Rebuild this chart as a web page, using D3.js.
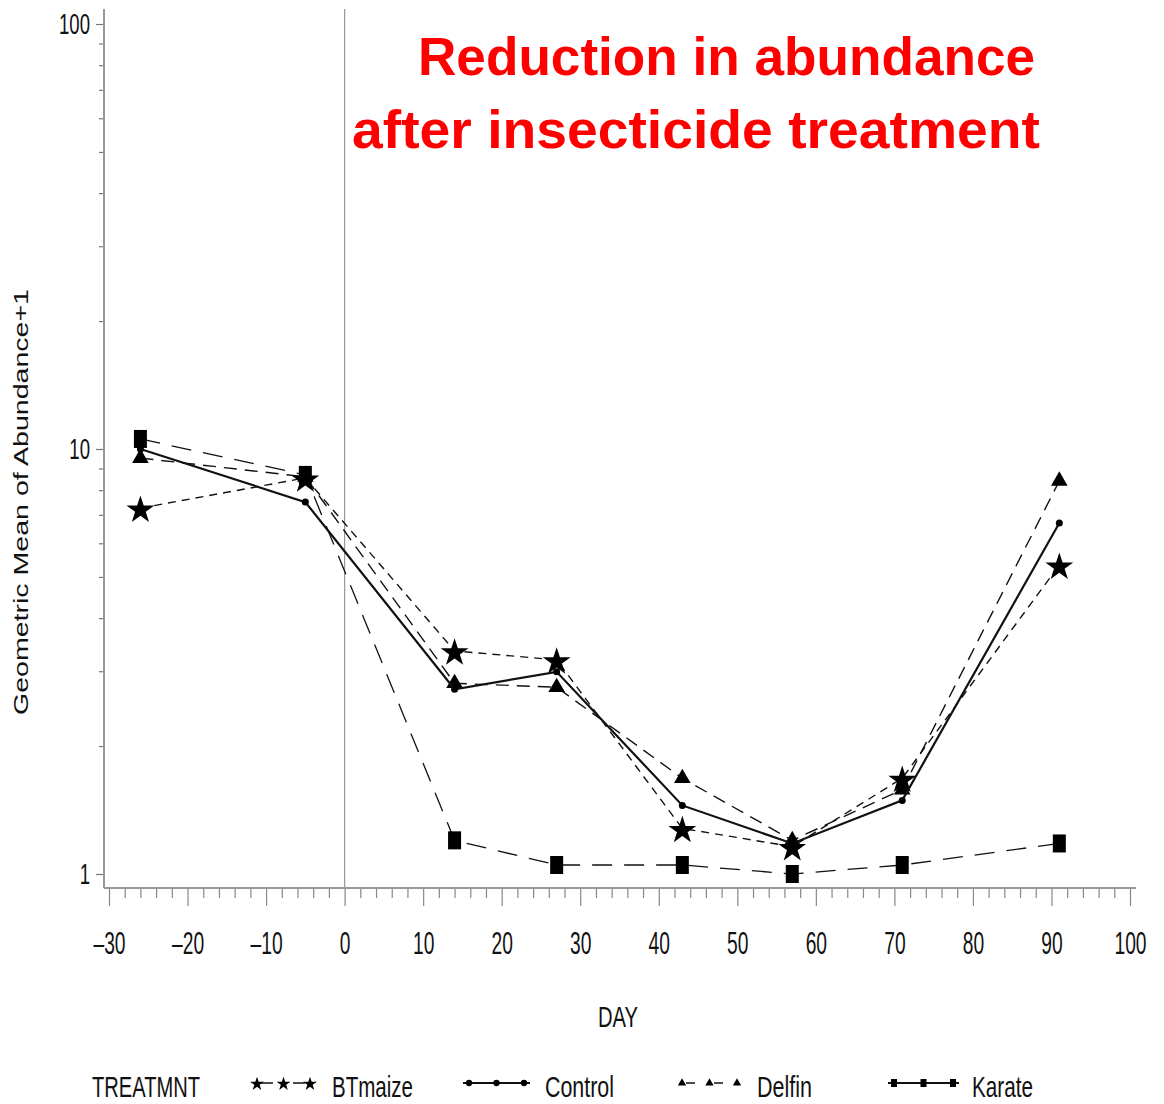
<!DOCTYPE html>
<html>
<head>
<meta charset="utf-8">
<script src="https://cdn.jsdelivr.net/npm/d3@7"></script>
<style>
  body { margin: 0; background: #fff; }
  svg text { font-family: "Liberation Sans", Arial, sans-serif; }
</style>
</head>
<body>
<div id="chart"></div>
<script>
// sampling days
let days = [-26, -5, 14, 27, 43, 57, 71, 91];

// geometric mean of abundance + 1
let btmaize = [7.26, 8.55, 3.35, 3.19, 1.28, 1.16, 1.68, 5.33];
let control = [10.0, 7.5, 2.72, 2.99, 1.45, 1.18, 1.49, 6.70];
let delfin  = [9.52, 8.6, 2.81, 2.75, 1.68, 1.20, 1.58, 8.41];
let karate  = [10.56, 8.69, 1.20, 1.05, 1.05, 1.0, 1.05, 1.18];

let treatments = ["BTmaize", "Control", "Delfin", "Karate"];
let xTicks = [-30, -20, -10, 0, 10, 20, 30, 40, 50, 60, 70, 80, 90, 100];
let yTicks = [1, 10, 100];

let width = 1164;
let height = 1104;
let squeeze = 0.62; // condensed look of the tick labels

let svg = d3.select("#chart")
    .append("svg")
    .attr("width", width)
    .attr("height", height);

let x = d3.scaleLinear().domain([-30, 100]).range([109, 1130]);
let y = d3.scaleLog().domain([1, 100]).range([874, 24]);

// axis lines
svg.append("line")
    .attr("x1", 104).attr("x2", 104).attr("y1", 9).attr("y2", 888)
    .attr("stroke", "#999").attr("stroke-width", 2);
svg.append("line")
    .attr("x1", 104).attr("x2", 1136).attr("y1", 888).attr("y2", 888)
    .attr("stroke", "#999").attr("stroke-width", 2);

// reference line at day 0
svg.append("line")
    .attr("x1", x(0)).attr("x2", x(0)).attr("y1", 9).attr("y2", 888)
    .attr("stroke", "#999").attr("stroke-width", 1.2);

// x axis, major + minor ticks
let xMinor = d3.range(-30, 101, 2).filter(d => d % 10 != 0);
let gxMinor = svg.append("g")
    .attr("transform", "translate(0,889)")
    .call(d3.axisBottom(x).tickValues(xMinor).tickSize(9).tickFormat(""));
let gx = svg.append("g")
    .attr("transform", "translate(0,889)")
    .call(d3.axisBottom(x).tickValues(xTicks).tickSize(17)
        .tickFormat(d => d < 0 ? "\u2013" + Math.abs(d) : d));
[gx, gxMinor].forEach(g => {
    g.select(".domain").remove();
    g.selectAll(".tick line").attr("stroke", "#888").attr("stroke-width", 1.2);
});
gx.selectAll(".tick text")
    .attr("y", 65)
    .attr("dy", 0)
    .attr("font-size", 31)
    .attr("fill", "#111")
    .attr("transform", `scale(${squeeze},1)`);

// y axis, major + minor ticks (log)
let yMinor = [];
[1, 10].forEach(dec => d3.range(2, 10).forEach(k => yMinor.push(dec * k)));
let gyMinor = svg.append("g")
    .attr("transform", "translate(103,0)")
    .call(d3.axisLeft(y).tickValues(yMinor).tickSize(4).tickFormat(""));
let gy = svg.append("g")
    .attr("transform", "translate(103,0)")
    .call(d3.axisLeft(y).tickValues(yTicks).tickSize(7).tickFormat(d3.format("d")));
[gy, gyMinor].forEach(g => {
    g.select(".domain").remove();
    g.selectAll(".tick line").attr("stroke", "#777").attr("stroke-width", 1.2);
});
gy.selectAll(".tick text")
    .attr("x", -13 / squeeze)
    .attr("font-size", 30)
    .attr("fill", "#111")
    .attr("transform", `scale(${squeeze},1)`);

// axis titles
svg.append("text")
    .attr("x", 618).attr("y", 1027)
    .attr("text-anchor", "middle")
    .attr("font-size", 30)
    .attr("textLength", 40).attr("lengthAdjust", "spacingAndGlyphs")
    .attr("fill", "#111")
    .text("DAY");

svg.append("text")
    .attr("transform", "translate(28,502) rotate(-90)")
    .attr("text-anchor", "middle")
    .attr("font-size", 20)
    .attr("textLength", 426).attr("lengthAdjust", "spacingAndGlyphs")
    .attr("fill", "#111")
    .text("Geometric  Mean  of  Abundance+1");

// title
svg.append("text")
    .attr("x", 418).attr("y", 75)
    .attr("font-size", 54).attr("font-weight", "bold")
    .attr("fill", "#ff0000")
    .attr("textLength", 617).attr("lengthAdjust", "spacingAndGlyphs")
    .text("Reduction in abundance");
svg.append("text")
    .attr("x", 352).attr("y", 148)
    .attr("font-size", 54).attr("font-weight", "bold")
    .attr("fill", "#ff0000")
    .attr("textLength", 688).attr("lengthAdjust", "spacingAndGlyphs")
    .text("after insecticide treatment");

// series
let series = [
    { name: "Karate",  values: karate,  dash: "20,12", width: 1.3, marker: "square" },
    { name: "Delfin",  values: delfin,  dash: "13,8",  width: 1.4, marker: "triangle" },
    { name: "BTmaize", values: btmaize, dash: "8,6",   width: 1.4, marker: "star" },
    { name: "Control", values: control, dash: null,    width: 2.2, marker: "dot" },
];

let line = d3.line()
    .x((d, i) => x(days[i]))
    .y(d => y(d));

let drawMarker = function (g, kind, cx, cy, scale) {
    if (kind == "square") {
        g.append("rect")
            .attr("x", cx - 6.5 * scale).attr("y", cy - 9 * scale)
            .attr("width", 13 * scale).attr("height", 18 * scale)
            .attr("fill", "#000");
    } else if (kind == "triangle") {
        g.append("path")
            .attr("d", d3.symbol().type(d3.symbolTriangle).size(120 * scale * scale)())
            .attr("transform", `translate(${cx},${cy})`)
            .attr("fill", "#000");
    } else if (kind == "star") {
        g.append("path")
            .attr("d", d3.symbol().type(d3.symbolStar).size(240 * scale * scale)())
            .attr("transform", `translate(${cx},${cy + 2 * scale})`)
            .attr("fill", "#000");
    } else {
        g.append("circle")
            .attr("cx", cx).attr("cy", cy).attr("r", 3.5 * Math.max(scale, 0.9))
            .attr("fill", "#000");
    }
};

series.forEach(s => {
    let g = svg.append("g").attr("class", "series " + s.name);
    g.append("path")
        .datum(s.values)
        .attr("d", line)
        .attr("fill", "none")
        .attr("stroke", "#111")
        .attr("stroke-width", s.width)
        .attr("stroke-dasharray", s.dash);
    s.values.forEach((v, i) => drawMarker(g, s.marker, x(days[i]), y(v), 1));
});

// legend
let legend = svg.append("g").attr("class", "legend");
legend.append("text")
    .attr("x", 92).attr("y", 1097)
    .attr("font-size", 30).attr("fill", "#111")
    .attr("textLength", 108).attr("lengthAdjust", "spacingAndGlyphs")
    .text("TREATMNT");

let legendItems = [
    { name: "BTmaize", x0: 251, x1: 316, tx: 332, tw: 81, marker: "star", dash: "0,10,12,10", width: 1.6 },
    { name: "Control", x0: 463, x1: 530, tx: 545, tw: 69, marker: "dot", dash: null, width: 2 },
    { name: "Delfin",  x0: 676, x1: 743, tx: 757, tw: 55, marker: "triangle", dash: "0,10,9,19,9,100", width: 1.6 },
    { name: "Karate",  x0: 888, x1: 959, tx: 972, tw: 61, marker: "square", dash: null, width: 2 },
];
legendItems.forEach(it => {
    let g = legend.append("g");
    let cy = 1083;
    g.append("line")
        .attr("x1", it.x0).attr("x2", it.x1).attr("y1", cy).attr("y2", cy)
        .attr("stroke", "#111").attr("stroke-width", it.width)
        .attr("stroke-dasharray", it.dash);
    [it.x0 + 6, (it.x0 + it.x1) / 2, it.x1 - 6].forEach(mx => {
        if (it.marker == "square") {
            g.append("rect").attr("x", mx - 3).attr("y", cy - 4).attr("width", 6).attr("height", 8).attr("fill", "#000");
        } else {
            drawMarker(g, it.marker, mx, cy, 0.5);
        }
    });
    g.append("text")
        .attr("x", it.tx).attr("y", 1097)
        .attr("font-size", 30).attr("fill", "#111")
        .attr("textLength", it.tw).attr("lengthAdjust", "spacingAndGlyphs")
        .text(it.name);
});
</script>
</body>
</html>
